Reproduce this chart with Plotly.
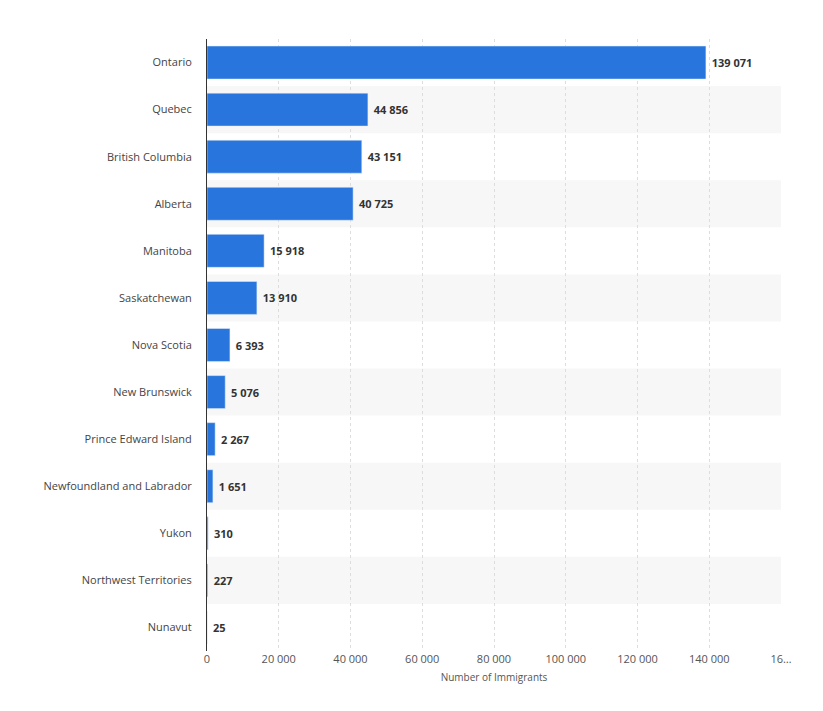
import plotly.graph_objects as go

provinces = ["Ontario", "Quebec", "British Columbia", "Alberta", "Manitoba", "Saskatchewan",
             "Nova Scotia", "New Brunswick", "Prince Edward Island", "Newfoundland and Labrador",
             "Yukon", "Northwest Territories", "Nunavut"]
immigrants = [139071, 44856, 43151, 40725, 15918, 13910, 6393, 5076, 2267, 1651, 310, 227, 25]
tick_vals = [0, 20000, 40000, 60000, 80000, 100000, 120000, 140000, 160000]
tick_text = ["0", "20 000", "40 000", "60 000", "80 000", "100 000", "120 000", "140 000", "16…"]

def fmt(v):
    return " " + f"{v:,}".replace(",", " ")

fig = go.Figure(go.Bar(
    y=provinces, x=immigrants, orientation="h",
    marker_color="#2876dd", width=0.7,
    text=[fmt(v) for v in immigrants], textposition="outside",
    textfont=dict(family="Open Sans", size=11, color="#333333", weight="bold"),
    cliponaxis=False,
))

shapes = []
for i in range(len(provinces)):
    if i % 2 == 1:
        shapes.append(dict(type="rect", xref="paper", yref="y", x0=0, x1=1,
                           y0=i - 0.5, y1=i + 0.5, fillcolor="#f7f7f7",
                           line_width=0, layer="below"))

fig.update_layout(
    width=823, height=711,
    margin=dict(l=199, r=50, t=31, b=68),
    plot_bgcolor="white", paper_bgcolor="white",
    showlegend=False, shapes=shapes,
    font=dict(family="Open Sans", size=11, color="#555555"),
    xaxis=dict(range=[0, 160000], tickvals=tick_vals, ticktext=tick_text,
               showgrid=True, gridcolor="#dddddd", griddash="dot", zeroline=False,
               title=dict(text="Number of Immigrants", font=dict(size=10, color="#555555"), standoff=8),
               tickfont=dict(size=11, color="#555555")),
    yaxis=dict(categoryorder="array", categoryarray=provinces, autorange="reversed",
               showline=True, linecolor="#333333", linewidth=1, ticks="",
               ticklabelstandoff=12, tickfont=dict(size=11, color="#444444")),
)
fig.write_html("out.html")
